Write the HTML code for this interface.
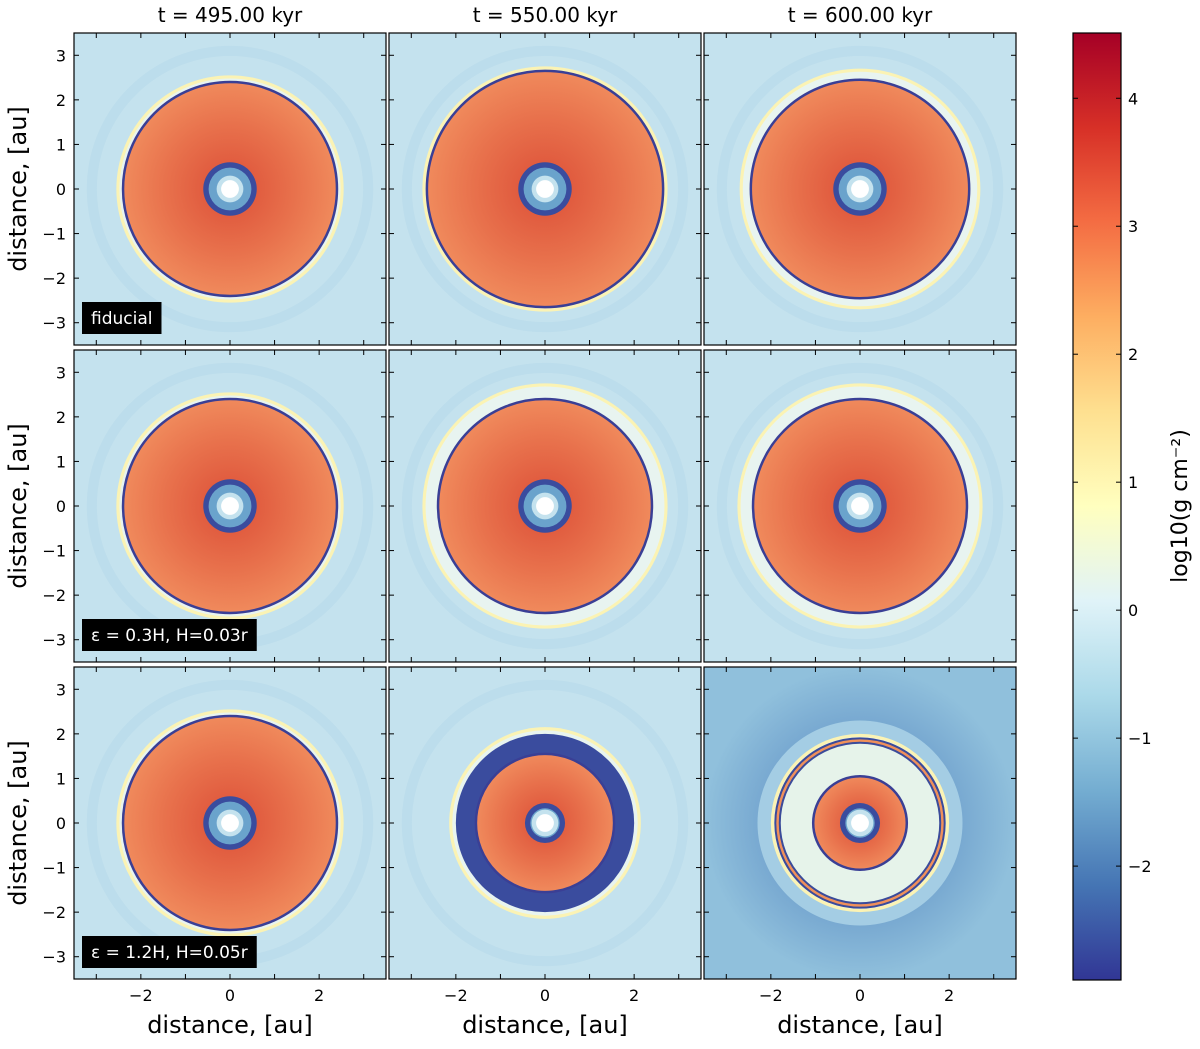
<!DOCTYPE html>
<html><head><meta charset="utf-8"><style>
body{margin:0;background:#fff;font-family:"Liberation Sans","DejaVu Sans",sans-serif}
svg text{font-family:"DejaVu Sans","Liberation Sans",sans-serif}
</style></head><body>
<svg id="fig" width="1200" height="1044" viewBox="0 0 1200 1044" xmlns="http://www.w3.org/2000/svg">
<defs>
<linearGradient id="cbar" x1="0" y1="1" x2="0" y2="0">
<stop offset="0" stop-color="#313695"/><stop offset="0.1" stop-color="#4575b4"/><stop offset="0.2" stop-color="#74add1"/>
<stop offset="0.3" stop-color="#abd9e9"/><stop offset="0.4" stop-color="#e0f3f8"/><stop offset="0.5" stop-color="#ffffbf"/>
<stop offset="0.6" stop-color="#fee090"/><stop offset="0.7" stop-color="#fdae61"/><stop offset="0.8" stop-color="#f46d43"/>
<stop offset="0.9" stop-color="#d73027"/><stop offset="1" stop-color="#a50026"/></linearGradient>
<radialGradient id="disk"><stop offset="0.2" stop-color="#e05a3e"/><stop offset="0.6" stop-color="#e8714c"/><stop offset="1" stop-color="#f08a5c"/></radialGradient>
<radialGradient id="bgdark"><stop offset="0.5" stop-color="#6e9fcc"/><stop offset="1" stop-color="#90c0dc"/></radialGradient>
</defs>
</svg>
<script>
const titles=["t = 495.00 kyr","t = 550.00 kyr","t = 600.00 kyr"];
const labels=["fiducial","\u03B5 = 0.3H, H=0.03r","\u03B5 = 1.2H, H=0.05r"];
const diskRadius=[2.4,2.65,2.45, 2.4,2.4,2.4, 2.4,1.55,1.05];
const rimRadius=[2.55,2.75,2.7, 2.55,2.75,2.75, 2.55,2.15,2.0];
const holeRadius=[0.6,0.6,0.6, 0.6,0.6,0.6, 0.6,0.45,0.45];
const gapOuter=[0,0,0, 0,0,0, 0,2.0,1.9];
const cbTicks=[-2,-1,0,1,2,3,4];
const axTicks=[-3,-2,-1,0,1,2,3];
const NS="http://www.w3.org/2000/svg",svg=document.getElementById('fig');
function el(t,a,p){const e=document.createElementNS(NS,t);for(const k in a)e.setAttribute(k,a[k]);(p||svg).appendChild(e);return e;}
const colX=[74,389,704],rowY=[33,350,667],W=312,S=W/7;
for(let r=0;r<3;r++)for(let c=0;c<3;c++){
 const i=r*3+c,x0=colX[c],y0=rowY[r],cx=x0+W/2,cy=y0+W/2;
 const g=el('g',{});
 const cp=el('clipPath',{id:'cp'+i},g);el('rect',{x:x0,y:y0,width:W,height:W},cp);
 const inner=el('g',{'clip-path':'url(#cp'+i+')'},g);
 const bg=(r==2&&c==2)?'url(#bgdark)':'#c4e2ee';
 el('rect',{x:x0,y:y0,width:W,height:W,fill:bg},inner);
 if(r==2&&c==2)el('circle',{cx,cy,r:2.3*S,fill:'#a4cde4'},inner);
 else el('circle',{cx,cy,r:3.1*S,fill:'none',stroke:'#b4d7e9',"stroke-width":10,opacity:0.5},inner);
 el('circle',{cx,cy,r:rimRadius[i]*S,fill:'#fbf3b4'},inner);
 el('circle',{cx,cy,r:(rimRadius[i]-0.07)*S,fill:'#e8f4f0'},inner);
 if(r==2&&c==1){el('circle',{cx,cy,r:gapOuter[i]*S,fill:'#3a4c9e'},inner);}
 if(r==2&&c==2){el('circle',{cx,cy,r:gapOuter[i]*S,fill:'#f0905a',stroke:'#3b4b9a','stroke-width':2},inner);
  el('circle',{cx,cy,r:(gapOuter[i]-0.1)*S,fill:'#e6f3ea',stroke:'#3b4b9a','stroke-width':2},inner);}
 const d=el('circle',{cx,cy,r:diskRadius[i]*S,fill:'url(#disk)',stroke:'#3a3f95','stroke-width':2.5},inner);
 
 el('circle',{cx,cy,r:holeRadius[i]*S,fill:'#3a4c9e'},inner);
 el('circle',{cx,cy,r:(holeRadius[i]-0.12)*S,fill:'#6aa3cc'},inner);
 el('circle',{cx,cy,r:0.3*S,fill:'#c4e2ee'},inner);
 el('circle',{cx,cy,r:0.2*S,fill:'#fff'},inner);
 el('rect',{x:x0,y:y0,width:W,height:W,fill:'none',stroke:'#000','stroke-width':1.2},g);
 axTicks.forEach(v=>{const tx=cx+v*S,ty=cy-v*S;
  el('line',{x1:tx,y1:y0+W,x2:tx,y2:y0+W-5,stroke:'#000'},g);el('line',{x1:tx,y1:y0,x2:tx,y2:y0+5,stroke:'#000'},g);
  el('line',{x1:x0,y1:ty,x2:x0+5,y2:ty,stroke:'#000'},g);el('line',{x1:x0+W,y1:ty,x2:x0+W-5,y2:ty,stroke:'#000'},g);
  if(c==0){const t=el('text',{x:x0-8,y:ty+6,'text-anchor':'end','font-size':16},g);t.textContent=v<0?'\u2212'+(-v):v;}
  if(r==2&&v%2==0){const t=el('text',{x:tx,y:y0+W+22,'text-anchor':'middle','font-size':16},g);t.textContent=v<0?'\u2212'+(-v):v;}
 });
 if(r==0){const t=el('text',{x:cx,y:22,'text-anchor':'middle','font-size':20},g);t.textContent=titles[c];}
 if(r==2){const t=el('text',{x:cx,y:1033,'text-anchor':'middle','font-size':24},g);t.textContent='distance, [au]';}
 if(c==0){const t=el('text',{x:0,y:0,'text-anchor':'middle','font-size':24,transform:'translate(26,'+cy+') rotate(-90)'},g);t.textContent='distance, [au]';
  const box=el('rect',{x:82,y:y0+269,width:100,height:32,fill:'#000'},g);
  const l=el('text',{x:91,y:y0+291,'font-size':17,fill:'#fff'},g);l.textContent=labels[r];
  box.setAttribute('width',l.getComputedTextLength()+18);}
}
const cb=el('g',{});
const cmin=-2.89,cmax=4.51,cy0=33,cy1=980;
const cyS=v=>cy1-(v-cmin)/(cmax-cmin)*(cy1-cy0);
el('rect',{x:1073,y:cy0,width:48,height:cy1-cy0,fill:'url(#cbar)',stroke:'#000','stroke-width':1.2},cb);
cbTicks.forEach(v=>{const y=cyS(v);el('line',{x1:1121,y1:y,x2:1116,y2:y,stroke:'#000'},cb);el('line',{x1:1073,y1:y,x2:1078,y2:y,stroke:'#000'},cb);
 const t=el('text',{x:1128,y:y+6,'font-size':16},cb);t.textContent=v<0?'\u2212'+(-v):v;});
const ct=el('text',{x:0,y:0,'text-anchor':'middle','font-size':22,transform:'translate(1187,506) rotate(-90)'},cb);
ct.textContent='log10(g cm\u207B\u00B2)';


</script>
</body></html>
